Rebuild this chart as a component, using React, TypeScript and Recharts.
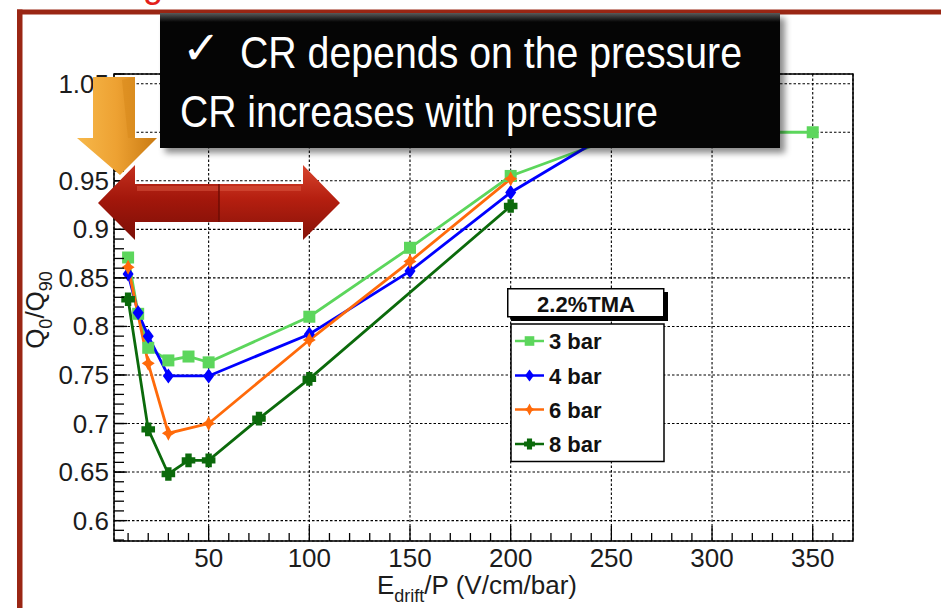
import React from 'react';
import { LineChart, Line, XAxis, YAxis, CartesianGrid, ReferenceArea, Legend } from 'recharts';

// E_drift/P (V/cm/bar) vs Q0/Q90
const bar3X = [10, 15, 20, 30, 40, 50, 100, 150, 200, 250, 300, 350];
const bar3Y = [0.871, 0.813, 0.778, 0.765, 0.769, 0.763, 0.81, 0.881, 0.955, 0.993, 1.0, 1.0];
const bar4X = [10, 15, 20, 30, 50, 100, 150, 200, 250];
const bar4Y = [0.854, 0.814, 0.79, 0.749, 0.749, 0.792, 0.857, 0.938, 1.0];
const bar6X = [10, 20, 30, 50, 100, 150, 200];
const bar6Y = [0.861, 0.762, 0.69, 0.7, 0.786, 0.867, 0.952];
const bar8X = [10, 20, 30, 40, 50, 75, 100, 200];
const bar8Y = [0.828, 0.694, 0.648, 0.662, 0.662, 0.705, 0.746, 0.924];

const xMajor = [50, 100, 150, 200, 250, 300, 350];
const xMinor = [10, 20, 30, 40, 60, 70, 80, 90, 110, 120, 130, 140, 160, 170, 180, 190, 210, 220, 230, 240,
  260, 270, 280, 290, 310, 320, 330, 340, 360];
const yMajor = [0.6, 0.65, 0.7, 0.75, 0.8, 0.85, 0.9, 0.95, 1.0, 1.05];
const yMinor = Array.from({ length: 49 }, (_, i) => +(0.58 + i * 0.01).toFixed(2));

const X_DOMAIN: [number, number] = [3, 370];
const Y_DOMAIN: [number, number] = [0.579, 1.06];

const zip = (xs: number[], ys: number[]) => xs.map((x, i) => ({ x, y: ys[i] }));

const series = [
  { name: '3 bar', color: '#5cd65c', shape: 'square', data: zip(bar3X, bar3Y) },
  { name: '4 bar', color: '#0000ff', shape: 'diamond', data: zip(bar4X, bar4Y) },
  { name: '6 bar', color: '#ff6a0a', shape: 'star', data: zip(bar6X, bar6Y) },
  { name: '8 bar', color: '#0b6a0b', shape: 'cross', data: zip(bar8X, bar8Y) },
];

const TICK_FONT = '"Liberation Sans", Arial, sans-serif';

function Marker({ cx, cy, shape, color, s = 1 }: any) {
  if (cx == null || cy == null) return <g />;
  if (shape === 'square') {
    return <rect x={cx - 6 * s} y={cy - 6 * s} width={12 * s} height={12 * s} fill={color} />;
  }
  if (shape === 'diamond') {
    const p = [[0, -7.5], [5.5, 0], [0, 7.5], [-5.5, 0]];
    return <polygon points={p.map(([a, b]) => `${cx + a * s},${cy + b * s}`).join(' ')} fill={color} />;
  }
  if (shape === 'star') {
    const p = [[0, -7.5], [2.6, -2.6], [6.5, 0], [2.6, 2.6], [0, 7.5], [-2.6, 2.6], [-6.5, 0], [-2.6, -2.6]];
    return <polygon points={p.map(([a, b]) => `${cx + a * s},${cy + b * s}`).join(' ')} fill={color} />;
  }
  const a = 6.8 * s;
  const w = 3.2 * s;
  return (
    <path
      d={`M${cx - w},${cy - a}H${cx + w}V${cy - w}H${cx + a}V${cy + w}H${cx + w}V${cy + a}H${cx - w}V${cy + w}H${cx - a}V${cy - w}H${cx - w}Z`}
      fill={color}
    />
  );
}

// ticks point into the frame, ROOT style; axes are 1px thick so they still render
function XMajorTick({ x, y, payload }: any) {
  return (
    <g>
      <line x1={x} x2={x} y1={y} y2={y - 15} stroke="#000" strokeWidth={1.3} />
      <text x={x} y={y + 26} textAnchor="middle" fontSize={26} fontFamily={TICK_FONT} fill="#1c1c1c">
        {payload.value}
      </text>
    </g>
  );
}

function XMinorTick({ x, y }: any) {
  return <line x1={x} x2={x} y1={y - 1} y2={y - 9} stroke="#000" strokeWidth={1.3} />;
}

function YMajorTick({ x, y, payload }: any) {
  return (
    <g>
      <line x1={x} x2={x + 13} y1={y} y2={y} stroke="#000" strokeWidth={1.3} />
      <text x={x - 5} y={y + 9} textAnchor="end" fontSize={26} fontFamily={TICK_FONT} fill="#1c1c1c">
        {String(+Number(payload.value).toFixed(2))}
      </text>
    </g>
  );
}

function YMinorTick({ x, y }: any) {
  return <line x1={x + 1} x2={x + 11} y1={y} y2={y} stroke="#000" strokeWidth={1.3} />;
}

function LegendBox() {
  const rows = [53, 87.5, 121.5, 156];
  return (
    <svg width={166} height={180} style={{ display: 'block', overflow: 'visible' }}>
      <rect x={4} y={4} width={157} height={29} fill="#000" />
      <rect x={0.75} y={0.75} width={156} height={28} fill="#fff" stroke="#000" strokeWidth={1.5} />
      <text x={79} y={23.5} textAnchor="middle" fontSize={22} fontWeight="bold" fontFamily={TICK_FONT} fill="#111">
        2.2%TMA
      </text>
      <rect x={4} y={36} width={153} height={137.5} fill="#fff" stroke="#000" strokeWidth={1.5} />
      {series.map((s, i) => (
        <g key={s.name}>
          <line x1={8} x2={37} y1={rows[i]} y2={rows[i]} stroke={s.color} strokeWidth={2.5} />
          <Marker cx={22.5} cy={rows[i]} shape={s.shape} color={s.color} s={0.8} />
          <text x={42} y={rows[i] + 8} fontSize={22} fontWeight="bold" fontFamily={TICK_FONT} fill="#111">
            {s.name}
          </text>
        </g>
      ))}
    </svg>
  );
}

function Overlay() {
  const font = '"Liberation Sans Narrow", "Liberation Sans", Arial, sans-serif';
  return (
    <svg
      width={941}
      height={608}
      style={{ position: 'absolute', left: 0, top: 0, pointerEvents: 'none' }}
    >
      <defs>
        <linearGradient id="bevel" x1="0" y1="0" x2="0" y2="1">
          <stop offset="0" stopColor="#5a5a5a" />
          <stop offset="1" stopColor="#050505" />
        </linearGradient>
        <linearGradient id="orange" x1="0" y1="0" x2="1" y2="0">
          <stop offset="0" stopColor="#f7b84a" />
          <stop offset="0.5" stopColor="#eda132" />
          <stop offset="1" stopColor="#c97a12" />
        </linearGradient>
        <linearGradient id="redL" x1="0" y1="0" x2="0" y2="1">
          <stop offset="0" stopColor="#c4301e" />
          <stop offset="0.45" stopColor="#a3170b" />
          <stop offset="1" stopColor="#7c0f07" />
        </linearGradient>
        <linearGradient id="redR" x1="0" y1="0" x2="0" y2="1">
          <stop offset="0" stopColor="#d8452e" />
          <stop offset="0.45" stopColor="#b51f10" />
          <stop offset="1" stopColor="#861208" />
        </linearGradient>
        <filter id="shadow" x="-10%" y="-10%" width="130%" height="140%">
          <feGaussianBlur stdDeviation="3" />
        </filter>
      </defs>

      {/* slide frame; the red title letter is cut off at the top edge as in the slide */}
      <text x={143} y={-3} fontSize={36} fontFamily={TICK_FONT} fill="#e3201b">g</text>
      <rect x={17} y={9.5} width={924} height={5} fill="#9a2614" />
      <rect x={17} y={9.5} width={5.5} height={600} fill="#9a2614" />

      {/* axis titles */}
      <text x={377} y={594} fontSize={26} fontFamily={TICK_FONT} fill="#1c1c1c">
        E<tspan fontSize={18} dy={8}>drift</tspan><tspan dy={-8}>/P (V/cm/bar)</tspan>
      </text>
      <text
        transform="translate(44,310) rotate(-90)"
        textAnchor="middle"
        fontSize={26}
        fontFamily={TICK_FONT}
        fill="#1c1c1c"
      >
        Q<tspan fontSize={18} dy={8}>0</tspan><tspan dy={-8}>/Q</tspan><tspan fontSize={18} dy={8}>90</tspan>
      </text>

      {/* callout */}
      <rect x={165} y={18} width={620} height={135} fill="rgba(0,0,0,0.45)" filter="url(#shadow)" />
      <rect x={160} y={13} width={620} height={135} fill="#050505" />
      <rect x={160} y={13} width={620} height={9} fill="url(#bevel)" />
      <text x={182} y={64} fontSize={46} fontWeight="bold" fontFamily='"DejaVu Sans", sans-serif' fill="#fff">✓</text>
      <text x={240} y={68} fontSize={45} fontFamily={font} fill="#fff" textLength={502} lengthAdjust="spacingAndGlyphs">
        CR depends on the pressure
      </text>
      <text x={180} y={127} fontSize={45} fontFamily={font} fill="#fff" textLength={478} lengthAdjust="spacingAndGlyphs">
        CR increases with pressure
      </text>

      {/* orange arrow */}
      <polygon points="93,77 135,77 135,138 157,138 120,175 77,138 93,138" fill="url(#orange)" />
      <polygon points="122,80 135,77 135,138 128,138" fill="#d98a1c" opacity={0.6} />

      {/* red double arrow */}
      <polygon points="98,203 135,165 135,184 219,184 219,222 135,222 135,240" fill="url(#redL)" />
      <polygon points="219,184 303,184 303,165 340,203 303,240 303,222 219,222" fill="url(#redR)" />
      <rect x={137} y={186} width={164} height={5} fill="#e0604a" opacity={0.45} />
      <line x1={219} x2={219} y1={184} y2={222} stroke="#6e0c05" strokeWidth={1.5} />
    </svg>
  );
}

export default function App() {
  return (
    <div
      style={{
        position: 'absolute',
        left: 0,
        top: 0,
        width: 941,
        height: 608,
        overflow: 'hidden',
        background: '#fff',
        fontFamily: TICK_FONT,
      }}
    >
      <LineChart width={941} height={608} margin={{ top: 74, right: 88, bottom: 65, left: 112 }}>
        <CartesianGrid stroke="#000" strokeDasharray="2.5 2" strokeWidth={1.1} />
        <XAxis
          dataKey="x"
          type="number"
          domain={X_DOMAIN}
          allowDataOverflow
          ticks={xMajor}
          interval={0}
          height={1}
          tickSize={0}
          tickMargin={0}
          axisLine={false}
          tickLine={false}
          tick={<XMajorTick />}
        />
        <XAxis
          xAxisId="minor"
          dataKey="x"
          type="number"
          domain={X_DOMAIN}
          allowDataOverflow
          ticks={xMinor}
          interval={0}
          height={1}
          tickSize={0}
          tickMargin={0}
          axisLine={false}
          tickLine={false}
          tick={<XMinorTick />}
        />
        <YAxis
          type="number"
          domain={Y_DOMAIN}
          allowDataOverflow
          ticks={yMajor}
          interval={0}
          width={1}
          tickSize={0}
          tickMargin={0}
          axisLine={false}
          tickLine={false}
          tick={<YMajorTick />}
        />
        <YAxis
          yAxisId="minor"
          type="number"
          domain={Y_DOMAIN}
          allowDataOverflow
          ticks={yMinor}
          interval={0}
          width={1}
          tickSize={0}
          tickMargin={0}
          axisLine={false}
          tickLine={false}
          tick={<YMinorTick />}
        />
        <ReferenceArea
          x1={X_DOMAIN[0]}
          x2={X_DOMAIN[1]}
          y1={Y_DOMAIN[0]}
          y2={Y_DOMAIN[1]}
          fill="none"
          stroke="#000"
          strokeWidth={1.5}
        />
        {series.map((s) => (
          <Line
            key={s.name}
            data={s.data}
            dataKey="y"
            name={s.name}
            type="linear"
            stroke={s.color}
            strokeWidth={2.8}
            dot={(p: any) => (
              <Marker key={`${s.name}-${p.index}`} cx={p.cx} cy={p.cy} shape={s.shape} color={s.color} />
            )}
            activeDot={false}
            isAnimationActive={false}
          />
        ))}
        <Legend
          layout="horizontal"
          verticalAlign="middle"
          align="center"
          wrapperStyle={{ position: 'absolute', left: 507, top: 288, width: 166, height: 180 }}
          content={() => <LegendBox />}
        />
      </LineChart>
      <Overlay />
    </div>
  );
}
